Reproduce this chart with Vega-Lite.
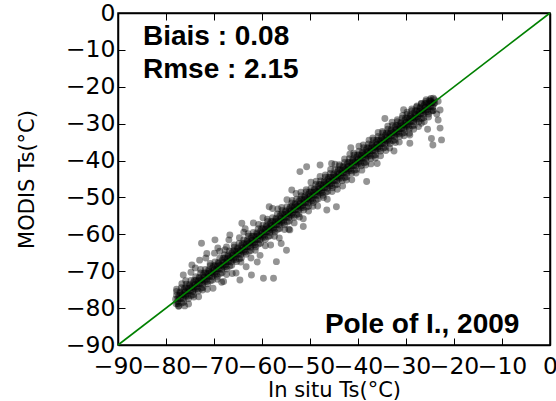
{
"$schema": "https://vega.github.io/schema/vega-lite/v6.json",
"width": 432, "height": 332,
"autosize": {"type": "none"},
"padding": {"left": 118, "top": 13, "right": 6, "bottom": 56},
"background": "white",
"config": {
 "view": {"stroke": "black", "strokeWidth": 1.5},
 "axis": {"labelFont": "DejaVu Sans", "labelFontSize": 23.5, "labelColor": "black", "titleFont": "DejaVu Sans", "titleFontSize": 21, "titleFontWeight": "normal", "titleColor": "black", "domainColor": "black", "domainWidth": 1.5, "tickColor": "black", "tickWidth": 1, "tickSize": -7, "grid": false, "labelOverlap": false, "labelFlush": false}
},
"datasets": {
"obs": [
{"x":-78,"y":-77.6},{"x":-77.9,"y":-78.8},{"x":-77.8,"y":-76.5},{"x":-77.6,"y":-78.2},
{"x":-76,"y":-75.6},{"x":-75.9,"y":-76.8},{"x":-75.8,"y":-74.5},{"x":-75.6,"y":-76.2},
{"x":-74,"y":-73.6},{"x":-73.9,"y":-74.8},{"x":-73.8,"y":-72.5},{"x":-73.6,"y":-74.2},
{"x":-72,"y":-71.6},{"x":-71.9,"y":-72.8},{"x":-71.8,"y":-70.5},{"x":-71.6,"y":-72.2},
{"x":-70,"y":-69.6},{"x":-69.9,"y":-70.8},{"x":-69.8,"y":-68.5},{"x":-69.6,"y":-70.2},
{"x":-68,"y":-67.6},{"x":-67.9,"y":-68.8},{"x":-67.8,"y":-66.5},{"x":-67.6,"y":-68.2},
{"x":-66,"y":-65.6},{"x":-65.9,"y":-66.8},{"x":-65.8,"y":-64.5},{"x":-65.6,"y":-66.2},
{"x":-64,"y":-63.6},{"x":-63.9,"y":-64.8},{"x":-63.8,"y":-62.5},{"x":-63.6,"y":-64.2},
{"x":-62,"y":-61.6},{"x":-61.9,"y":-62.8},{"x":-61.8,"y":-60.5},{"x":-61.6,"y":-62.2},
{"x":-60,"y":-59.6},{"x":-59.9,"y":-60.8},{"x":-59.8,"y":-58.5},{"x":-59.6,"y":-60.2},
{"x":-58,"y":-57.6},{"x":-57.9,"y":-58.8},{"x":-57.8,"y":-56.5},{"x":-57.6,"y":-58.2},
{"x":-56,"y":-55.6},{"x":-55.9,"y":-56.8},{"x":-55.8,"y":-54.5},{"x":-55.6,"y":-56.2},
{"x":-54,"y":-53.6},{"x":-53.9,"y":-54.8},{"x":-53.8,"y":-52.5},{"x":-53.6,"y":-54.2},
{"x":-52,"y":-51.6},{"x":-51.9,"y":-52.8},{"x":-51.8,"y":-50.5},{"x":-51.6,"y":-52.2},
{"x":-50,"y":-49.6},{"x":-49.9,"y":-50.8},{"x":-49.8,"y":-48.5},{"x":-49.6,"y":-50.2},
{"x":-48,"y":-47.6},{"x":-47.9,"y":-48.8},{"x":-47.8,"y":-46.5},{"x":-47.6,"y":-48.2},
{"x":-46,"y":-45.6},{"x":-45.9,"y":-46.8},{"x":-45.8,"y":-44.5},{"x":-45.6,"y":-46.2},
{"x":-44,"y":-43.6},{"x":-43.9,"y":-44.8},{"x":-43.8,"y":-42.5},{"x":-43.6,"y":-44.2},
{"x":-42,"y":-41.6},{"x":-41.9,"y":-42.8},{"x":-41.8,"y":-40.5},{"x":-41.6,"y":-42.2},
{"x":-40,"y":-39.6},{"x":-39.9,"y":-40.8},{"x":-39.8,"y":-38.5},{"x":-39.6,"y":-40.2},
{"x":-38,"y":-37.6},{"x":-37.9,"y":-38.8},{"x":-37.8,"y":-36.5},{"x":-37.6,"y":-38.2},
{"x":-36,"y":-35.6},{"x":-35.9,"y":-36.8},{"x":-35.8,"y":-34.5},{"x":-35.6,"y":-36.2},
{"x":-34,"y":-33.6},{"x":-33.9,"y":-34.8},{"x":-33.8,"y":-32.5},{"x":-33.6,"y":-34.2},
{"x":-32,"y":-31.6},{"x":-31.9,"y":-32.8},{"x":-31.8,"y":-30.5},{"x":-31.6,"y":-32.2},
{"x":-30,"y":-29.6},{"x":-29.9,"y":-30.8},{"x":-29.8,"y":-28.5},{"x":-29.6,"y":-30.2},
{"x":-28,"y":-27.6},{"x":-27.9,"y":-28.8},{"x":-27.8,"y":-26.5},{"x":-27.6,"y":-28.2},
{"x":-26,"y":-25.6},{"x":-25.9,"y":-26.8},{"x":-25.8,"y":-24.5},{"x":-25.6,"y":-26.2},
{"x":-77.5,"y":-78.8},{"x":-77.3,"y":-76.6},{"x":-77.2,"y":-77.4},{"x":-77.1,"y":-75.6},
{"x":-75.5,"y":-76.8},{"x":-75.3,"y":-74.6},{"x":-75.2,"y":-75.4},{"x":-75.1,"y":-73.6},
{"x":-73.5,"y":-74.8},{"x":-73.3,"y":-72.6},{"x":-73.2,"y":-73.4},{"x":-73.1,"y":-71.6},
{"x":-71.5,"y":-72.8},{"x":-71.3,"y":-70.6},{"x":-71.2,"y":-71.4},{"x":-71.1,"y":-69.6},
{"x":-69.5,"y":-70.8},{"x":-69.3,"y":-68.6},{"x":-69.2,"y":-69.4},{"x":-69.1,"y":-67.6},
{"x":-67.5,"y":-68.8},{"x":-67.3,"y":-66.6},{"x":-67.2,"y":-67.4},{"x":-67.1,"y":-65.6},
{"x":-65.5,"y":-66.8},{"x":-65.3,"y":-64.6},{"x":-65.2,"y":-65.4},{"x":-65.1,"y":-63.6},
{"x":-63.5,"y":-64.8},{"x":-63.3,"y":-62.6},{"x":-63.2,"y":-63.4},{"x":-63.1,"y":-61.6},
{"x":-61.5,"y":-62.8},{"x":-61.3,"y":-60.6},{"x":-61.2,"y":-61.4},{"x":-61.1,"y":-59.6},
{"x":-59.5,"y":-60.8},{"x":-59.3,"y":-58.6},{"x":-59.2,"y":-59.4},{"x":-59.1,"y":-57.6},
{"x":-57.5,"y":-58.8},{"x":-57.3,"y":-56.6},{"x":-57.2,"y":-57.4},{"x":-57.1,"y":-55.6},
{"x":-55.5,"y":-56.8},{"x":-55.3,"y":-54.6},{"x":-55.2,"y":-55.4},{"x":-55.1,"y":-53.6},
{"x":-53.5,"y":-54.8},{"x":-53.3,"y":-52.6},{"x":-53.2,"y":-53.4},{"x":-53.1,"y":-51.6},
{"x":-51.5,"y":-52.8},{"x":-51.3,"y":-50.6},{"x":-51.2,"y":-51.4},{"x":-51.1,"y":-49.6},
{"x":-49.5,"y":-50.8},{"x":-49.3,"y":-48.6},{"x":-49.2,"y":-49.4},{"x":-49.1,"y":-47.6},
{"x":-47.5,"y":-48.8},{"x":-47.3,"y":-46.6},{"x":-47.2,"y":-47.4},{"x":-47.1,"y":-45.6},
{"x":-45.5,"y":-46.8},{"x":-45.3,"y":-44.6},{"x":-45.2,"y":-45.4},{"x":-45.1,"y":-43.6},
{"x":-43.5,"y":-44.8},{"x":-43.3,"y":-42.6},{"x":-43.2,"y":-43.4},{"x":-43.1,"y":-41.6},
{"x":-41.5,"y":-42.8},{"x":-41.3,"y":-40.6},{"x":-41.2,"y":-41.4},{"x":-41.1,"y":-39.6},
{"x":-39.5,"y":-40.8},{"x":-39.3,"y":-38.6},{"x":-39.2,"y":-39.4},{"x":-39.1,"y":-37.6},
{"x":-37.5,"y":-38.8},{"x":-37.3,"y":-36.6},{"x":-37.2,"y":-37.4},{"x":-37.1,"y":-35.6},
{"x":-35.5,"y":-36.8},{"x":-35.3,"y":-34.6},{"x":-35.2,"y":-35.4},{"x":-35.1,"y":-33.6},
{"x":-33.5,"y":-34.8},{"x":-33.3,"y":-32.6},{"x":-33.2,"y":-33.4},{"x":-33.1,"y":-31.6},
{"x":-31.5,"y":-32.8},{"x":-31.3,"y":-30.6},{"x":-31.2,"y":-31.4},{"x":-31.1,"y":-29.6},
{"x":-29.5,"y":-30.8},{"x":-29.3,"y":-28.6},{"x":-29.2,"y":-29.4},{"x":-29.1,"y":-27.6},
{"x":-27.5,"y":-28.8},{"x":-27.3,"y":-26.6},{"x":-27.2,"y":-27.4},{"x":-27.1,"y":-25.6},
{"x":-25.5,"y":-26.8},{"x":-25.3,"y":-24.6},{"x":-25.2,"y":-25.4},{"x":-25.1,"y":-23.6},
{"x":-77,"y":-75.9},{"x":-76.9,"y":-77.4},{"x":-76.7,"y":-78.6},{"x":-76.6,"y":-76.3},
{"x":-75,"y":-73.9},{"x":-74.9,"y":-75.4},{"x":-74.7,"y":-76.6},{"x":-74.6,"y":-74.3},
{"x":-73,"y":-71.9},{"x":-72.9,"y":-73.4},{"x":-72.7,"y":-74.6},{"x":-72.6,"y":-72.3},
{"x":-71,"y":-69.9},{"x":-70.9,"y":-71.4},{"x":-70.7,"y":-72.6},{"x":-70.6,"y":-70.3},
{"x":-69,"y":-67.9},{"x":-68.9,"y":-69.4},{"x":-68.7,"y":-70.6},{"x":-68.6,"y":-68.3},
{"x":-67,"y":-65.9},{"x":-66.9,"y":-67.4},{"x":-66.7,"y":-68.6},{"x":-66.6,"y":-66.3},
{"x":-65,"y":-63.9},{"x":-64.9,"y":-65.4},{"x":-64.7,"y":-66.6},{"x":-64.6,"y":-64.3},
{"x":-63,"y":-61.9},{"x":-62.9,"y":-63.4},{"x":-62.7,"y":-64.6},{"x":-62.6,"y":-62.3},
{"x":-61,"y":-59.9},{"x":-60.9,"y":-61.4},{"x":-60.7,"y":-62.6},{"x":-60.6,"y":-60.3},
{"x":-59,"y":-57.9},{"x":-58.9,"y":-59.4},{"x":-58.7,"y":-60.6},{"x":-58.6,"y":-58.3},
{"x":-57,"y":-55.9},{"x":-56.9,"y":-57.4},{"x":-56.7,"y":-58.6},{"x":-56.6,"y":-56.3},
{"x":-55,"y":-53.9},{"x":-54.9,"y":-55.4},{"x":-54.7,"y":-56.6},{"x":-54.6,"y":-54.3},
{"x":-53,"y":-51.9},{"x":-52.9,"y":-53.4},{"x":-52.7,"y":-54.6},{"x":-52.6,"y":-52.3},
{"x":-51,"y":-49.9},{"x":-50.9,"y":-51.4},{"x":-50.7,"y":-52.6},{"x":-50.6,"y":-50.3},
{"x":-49,"y":-47.9},{"x":-48.9,"y":-49.4},{"x":-48.7,"y":-50.6},{"x":-48.6,"y":-48.3},
{"x":-47,"y":-45.9},{"x":-46.9,"y":-47.4},{"x":-46.7,"y":-48.6},{"x":-46.6,"y":-46.3},
{"x":-45,"y":-43.9},{"x":-44.9,"y":-45.4},{"x":-44.7,"y":-46.6},{"x":-44.6,"y":-44.3},
{"x":-43,"y":-41.9},{"x":-42.9,"y":-43.4},{"x":-42.7,"y":-44.6},{"x":-42.6,"y":-42.3},
{"x":-41,"y":-39.9},{"x":-40.9,"y":-41.4},{"x":-40.7,"y":-42.6},{"x":-40.6,"y":-40.3},
{"x":-39,"y":-37.9},{"x":-38.9,"y":-39.4},{"x":-38.7,"y":-40.6},{"x":-38.6,"y":-38.3},
{"x":-37,"y":-35.9},{"x":-36.9,"y":-37.4},{"x":-36.7,"y":-38.6},{"x":-36.6,"y":-36.3},
{"x":-35,"y":-33.9},{"x":-34.9,"y":-35.4},{"x":-34.7,"y":-36.6},{"x":-34.6,"y":-34.3},
{"x":-33,"y":-31.9},{"x":-32.9,"y":-33.4},{"x":-32.7,"y":-34.6},{"x":-32.6,"y":-32.3},
{"x":-31,"y":-29.9},{"x":-30.9,"y":-31.4},{"x":-30.7,"y":-32.6},{"x":-30.6,"y":-30.3},
{"x":-29,"y":-27.9},{"x":-28.9,"y":-29.4},{"x":-28.7,"y":-30.6},{"x":-28.6,"y":-28.3},
{"x":-27,"y":-25.9},{"x":-26.9,"y":-27.4},{"x":-26.7,"y":-28.6},{"x":-26.6,"y":-26.3},
{"x":-25,"y":-23.9},{"x":-24.9,"y":-25.4},{"x":-24.7,"y":-26.6},{"x":-24.6,"y":-24.3},
{"x":-76.4,"y":-77.5},{"x":-76.3,"y":-75.1},{"x":-76.2,"y":-76.6},{"x":-76.1,"y":-74.5},
{"x":-74.4,"y":-75.5},{"x":-74.3,"y":-73.1},{"x":-74.2,"y":-74.6},{"x":-74.1,"y":-72.5},
{"x":-72.4,"y":-73.5},{"x":-72.3,"y":-71.1},{"x":-72.2,"y":-72.6},{"x":-72.1,"y":-70.5},
{"x":-70.4,"y":-71.5},{"x":-70.3,"y":-69.1},{"x":-70.2,"y":-70.6},{"x":-70.1,"y":-68.5},
{"x":-68.4,"y":-69.5},{"x":-68.3,"y":-67.1},{"x":-68.2,"y":-68.6},{"x":-68.1,"y":-66.5},
{"x":-66.4,"y":-67.5},{"x":-66.3,"y":-65.1},{"x":-66.2,"y":-66.6},{"x":-66.1,"y":-64.5},
{"x":-64.4,"y":-65.5},{"x":-64.3,"y":-63.1},{"x":-64.2,"y":-64.6},{"x":-64.1,"y":-62.5},
{"x":-62.4,"y":-63.5},{"x":-62.3,"y":-61.1},{"x":-62.2,"y":-62.6},{"x":-62.1,"y":-60.5},
{"x":-60.4,"y":-61.5},{"x":-60.3,"y":-59.1},{"x":-60.2,"y":-60.6},{"x":-60.1,"y":-58.5},
{"x":-58.4,"y":-59.5},{"x":-58.3,"y":-57.1},{"x":-58.2,"y":-58.6},{"x":-58.1,"y":-56.5},
{"x":-56.4,"y":-57.5},{"x":-56.3,"y":-55.1},{"x":-56.2,"y":-56.6},{"x":-56.1,"y":-54.5},
{"x":-54.4,"y":-55.5},{"x":-54.3,"y":-53.1},{"x":-54.2,"y":-54.6},{"x":-54.1,"y":-52.5},
{"x":-52.4,"y":-53.5},{"x":-52.3,"y":-51.1},{"x":-52.2,"y":-52.6},{"x":-52.1,"y":-50.5},
{"x":-50.4,"y":-51.5},{"x":-50.3,"y":-49.1},{"x":-50.2,"y":-50.6},{"x":-50.1,"y":-48.5},
{"x":-48.4,"y":-49.5},{"x":-48.3,"y":-47.1},{"x":-48.2,"y":-48.6},{"x":-48.1,"y":-46.5},
{"x":-46.4,"y":-47.5},{"x":-46.3,"y":-45.1},{"x":-46.2,"y":-46.6},{"x":-46.1,"y":-44.5},
{"x":-44.4,"y":-45.5},{"x":-44.3,"y":-43.1},{"x":-44.2,"y":-44.6},{"x":-44.1,"y":-42.5},
{"x":-42.4,"y":-43.5},{"x":-42.3,"y":-41.1},{"x":-42.2,"y":-42.6},{"x":-42.1,"y":-40.5},
{"x":-40.4,"y":-41.5},{"x":-40.3,"y":-39.1},{"x":-40.2,"y":-40.6},{"x":-40.1,"y":-38.5},
{"x":-38.4,"y":-39.5},{"x":-38.3,"y":-37.1},{"x":-38.2,"y":-38.6},{"x":-38.1,"y":-36.5},
{"x":-36.4,"y":-37.5},{"x":-36.3,"y":-35.1},{"x":-36.2,"y":-36.6},{"x":-36.1,"y":-34.5},
{"x":-34.4,"y":-35.5},{"x":-34.3,"y":-33.1},{"x":-34.2,"y":-34.6},{"x":-34.1,"y":-32.5},
{"x":-32.4,"y":-33.5},{"x":-32.3,"y":-31.1},{"x":-32.2,"y":-32.6},{"x":-32.1,"y":-30.5},
{"x":-30.4,"y":-31.5},{"x":-30.3,"y":-29.1},{"x":-30.2,"y":-30.6},{"x":-30.1,"y":-28.5},
{"x":-28.4,"y":-29.5},{"x":-28.3,"y":-27.1},{"x":-28.2,"y":-28.6},{"x":-28.1,"y":-26.5},
{"x":-26.4,"y":-27.5},{"x":-26.3,"y":-25.1},{"x":-26.2,"y":-26.6},{"x":-26.1,"y":-24.5},
{"x":-24.4,"y":-25.5},{"x":-24.3,"y":-23.1},{"x":-24.2,"y":-24.6},{"x":-24.1,"y":-23.5},
{"x":-77.8,"y":-75.5},{"x":-77.3,"y":-79.4},{"x":-77.5,"y":-77.3},
{"x":-76.8,"y":-74.5},{"x":-76.3,"y":-78.4},{"x":-76.5,"y":-76.3},
{"x":-75.8,"y":-73.5},{"x":-75.3,"y":-77.4},{"x":-75.5,"y":-75.3},
{"x":-74.8,"y":-72.5},{"x":-74.3,"y":-76.4},{"x":-74.5,"y":-74.3},
{"x":-73.8,"y":-71.5},{"x":-73.3,"y":-75.4},{"x":-73.5,"y":-73.3},
{"x":-72.8,"y":-70.5},{"x":-72.3,"y":-74.4},{"x":-72.5,"y":-72.3},
{"x":-71.8,"y":-69.5},{"x":-71.3,"y":-73.4},{"x":-71.5,"y":-71.3},
{"x":-70.8,"y":-68.5},{"x":-70.3,"y":-72.4},{"x":-70.5,"y":-70.3},
{"x":-69.8,"y":-67.5},{"x":-69.3,"y":-71.4},{"x":-69.5,"y":-69.3},
{"x":-68.8,"y":-66.5},{"x":-68.3,"y":-70.4},{"x":-68.5,"y":-68.3},
{"x":-67.8,"y":-65.5},{"x":-67.3,"y":-69.4},{"x":-67.5,"y":-67.3},
{"x":-66.8,"y":-64.5},{"x":-66.3,"y":-68.4},{"x":-66.5,"y":-66.3},
{"x":-65.8,"y":-63.5},{"x":-65.3,"y":-67.4},{"x":-65.5,"y":-65.3},
{"x":-64.8,"y":-62.5},{"x":-64.3,"y":-66.4},{"x":-64.5,"y":-64.3},
{"x":-63.8,"y":-61.5},{"x":-63.3,"y":-65.4},{"x":-63.5,"y":-63.3},
{"x":-62.8,"y":-60.5},{"x":-62.3,"y":-64.4},{"x":-62.5,"y":-62.3},
{"x":-61.8,"y":-59.5},{"x":-61.3,"y":-63.4},{"x":-61.5,"y":-61.3},
{"x":-60.8,"y":-58.5},{"x":-60.3,"y":-62.4},{"x":-60.5,"y":-60.3},
{"x":-59.8,"y":-57.5},{"x":-59.3,"y":-61.4},{"x":-59.5,"y":-59.3},
{"x":-58.8,"y":-56.5},{"x":-58.3,"y":-60.4},{"x":-58.5,"y":-58.3},
{"x":-57.8,"y":-55.5},{"x":-57.3,"y":-59.4},{"x":-57.5,"y":-57.3},
{"x":-56.8,"y":-54.5},{"x":-56.3,"y":-58.4},{"x":-56.5,"y":-56.3},
{"x":-55.8,"y":-53.5},{"x":-55.3,"y":-57.4},{"x":-55.5,"y":-55.3},
{"x":-54.8,"y":-52.5},{"x":-54.3,"y":-56.4},{"x":-54.5,"y":-54.3},
{"x":-53.8,"y":-51.5},{"x":-53.3,"y":-55.4},{"x":-53.5,"y":-53.3},
{"x":-52.8,"y":-50.5},{"x":-52.3,"y":-54.4},{"x":-52.5,"y":-52.3},
{"x":-51.8,"y":-49.5},{"x":-51.3,"y":-53.4},{"x":-51.5,"y":-51.3},
{"x":-50.8,"y":-48.5},{"x":-50.3,"y":-52.4},{"x":-50.5,"y":-50.3},
{"x":-49.8,"y":-47.5},{"x":-49.3,"y":-51.4},{"x":-49.5,"y":-49.3},
{"x":-48.8,"y":-46.5},{"x":-48.3,"y":-50.4},{"x":-48.5,"y":-48.3},
{"x":-47.8,"y":-45.5},{"x":-47.3,"y":-49.4},{"x":-47.5,"y":-47.3},
{"x":-46.8,"y":-44.5},{"x":-46.3,"y":-48.4},{"x":-46.5,"y":-46.3},
{"x":-45.8,"y":-43.5},{"x":-45.3,"y":-47.4},{"x":-45.5,"y":-45.3},
{"x":-44.8,"y":-42.5},{"x":-44.3,"y":-46.4},{"x":-44.5,"y":-44.3},
{"x":-43.8,"y":-41.5},{"x":-43.3,"y":-45.4},{"x":-43.5,"y":-43.3},
{"x":-42.8,"y":-40.5},{"x":-42.3,"y":-44.4},{"x":-42.5,"y":-42.3},
{"x":-41.8,"y":-39.5},{"x":-41.3,"y":-43.4},{"x":-41.5,"y":-41.3},
{"x":-40.8,"y":-38.5},{"x":-40.3,"y":-42.4},{"x":-40.5,"y":-40.3},
{"x":-39.8,"y":-37.5},{"x":-39.3,"y":-41.4},{"x":-39.5,"y":-39.3},
{"x":-38.8,"y":-36.5},{"x":-38.3,"y":-40.4},{"x":-38.5,"y":-38.3},
{"x":-37.8,"y":-35.5},{"x":-37.3,"y":-39.4},{"x":-37.5,"y":-37.3},
{"x":-36.8,"y":-34.5},{"x":-36.3,"y":-38.4},{"x":-36.5,"y":-36.3},
{"x":-35.8,"y":-33.5},{"x":-35.3,"y":-37.4},{"x":-35.5,"y":-35.3},
{"x":-34.8,"y":-32.5},{"x":-34.3,"y":-36.4},{"x":-34.5,"y":-34.3},
{"x":-33.8,"y":-31.5},{"x":-33.3,"y":-35.4},{"x":-33.5,"y":-33.3},
{"x":-32.8,"y":-30.5},{"x":-32.3,"y":-34.4},{"x":-32.5,"y":-32.3},
{"x":-31.8,"y":-29.5},{"x":-31.3,"y":-33.4},{"x":-31.5,"y":-31.3},
{"x":-30.8,"y":-28.5},{"x":-30.3,"y":-32.4},{"x":-30.5,"y":-30.3},
{"x":-29.8,"y":-27.5},{"x":-29.3,"y":-31.4},{"x":-29.5,"y":-29.3},
{"x":-28.8,"y":-26.5},{"x":-28.3,"y":-30.4},{"x":-28.5,"y":-28.3},
{"x":-27.8,"y":-25.5},{"x":-27.3,"y":-29.4},{"x":-27.5,"y":-27.3},
{"x":-26.8,"y":-24.5},{"x":-26.3,"y":-28.4},{"x":-26.5,"y":-26.3},
{"x":-25.8,"y":-23.5},{"x":-25.3,"y":-27.4},{"x":-25.5,"y":-25.3},
{"x":-24.8,"y":-23.2},{"x":-24.3,"y":-26.4},{"x":-24.5,"y":-24.3},
{"x":-77.8,"y":-74.9},{"x":-77.4,"y":-79.5},{"x":-76.7,"y":-73.4},{"x":-76.1,"y":-79.4},
{"x":-75.9,"y":-72.6},{"x":-75.3,"y":-78.9},{"x":-74.8,"y":-70.3},{"x":-74.2,"y":-77.0},
{"x":-73.9,"y":-69.1},{"x":-73.2,"y":-76.9},{"x":-72.8,"y":-69.5},{"x":-72.4,"y":-75.1},
{"x":-71.7,"y":-66.4},{"x":-71.4,"y":-74.9},{"x":-70.8,"y":-67.9},{"x":-70.2,"y":-74.6},
{"x":-69.9,"y":-65.1},{"x":-69.3,"y":-72.2},{"x":-68.8,"y":-64.6},{"x":-68.4,"y":-73.0},
{"x":-67.7,"y":-64.2},{"x":-67.4,"y":-70.9},{"x":-66.9,"y":-61.5},{"x":-66.2,"y":-70.6},
{"x":-65.8,"y":-62.9},{"x":-65.4,"y":-70.5},{"x":-64.7,"y":-60.9},{"x":-64.4,"y":-67.5},
{"x":-63.8,"y":-59.4},{"x":-63.3,"y":-68.8},{"x":-62.9,"y":-59.8},{"x":-62.3,"y":-66.4},
{"x":-61.8,"y":-56.9},{"x":-61.4,"y":-64.3},{"x":-60.7,"y":-57.3},{"x":-60.4,"y":-65.7},
{"x":-59.8,"y":-55.5},{"x":-59.3,"y":-63.1},{"x":-58.9,"y":-55.9},{"x":-58.2,"y":-62.9},
{"x":-57.8,"y":-53.0},{"x":-57.4,"y":-60.5},{"x":-56.7,"y":-53.1},{"x":-56.4,"y":-61.0},
{"x":-55.9,"y":-52.7},{"x":-55.3,"y":-58.7},{"x":-54.8,"y":-50.6},{"x":-54.4,"y":-58.6},
{"x":-53.7,"y":-50.8},{"x":-53.3,"y":-56.9},{"x":-52.9,"y":-48.9},{"x":-52.2,"y":-55.3},
{"x":-51.9,"y":-48.6},{"x":-51.4,"y":-55.8},{"x":-50.8,"y":-47.9},{"x":-50.3,"y":-53.7},
{"x":-49.8,"y":-45.9},{"x":-49.4,"y":-52.4},{"x":-48.7,"y":-45.6},{"x":-48.4,"y":-52.3},
{"x":-47.9,"y":-44.3},{"x":-47.2,"y":-50.0},{"x":-46.8,"y":-43.9},{"x":-46.4,"y":-50.5},
{"x":-45.7,"y":-42.4},{"x":-45.4,"y":-48.4},{"x":-44.8,"y":-41.0},{"x":-44.3,"y":-47.8},
{"x":-43.9,"y":-41.1},{"x":-43.2,"y":-46.9},{"x":-42.8,"y":-39.6},{"x":-42.4,"y":-45.3},
{"x":-41.7,"y":-38.3},{"x":-41.3,"y":-45.2},{"x":-40.9,"y":-38.0},{"x":-40.4,"y":-43.4},
{"x":-39.8,"y":-36.1},{"x":-39.2,"y":-42.6},{"x":-38.9,"y":-35.8},{"x":-38.4,"y":-41.2},
{"x":-37.7,"y":-34.5},{"x":-37.3,"y":-40.9},{"x":-36.9,"y":-33.9},{"x":-36.4,"y":-39.3},
{"x":-35.8,"y":-32.4},{"x":-35.3,"y":-38.7},{"x":-34.9,"y":-32.1},{"x":-34.2,"y":-37.3},
{"x":-33.8,"y":-30.7},{"x":-33.4,"y":-36.6},{"x":-32.9,"y":-29.6},{"x":-32.2,"y":-35.1},
{"x":-31.8,"y":-28.9},{"x":-31.4,"y":-35.0},{"x":-30.7,"y":-27.8},{"x":-30.4,"y":-33.3},
{"x":-29.8,"y":-26.9},{"x":-29.3,"y":-32.6},{"x":-28.8,"y":-26.0},{"x":-28.4,"y":-31.5},
{"x":-27.7,"y":-25.2},{"x":-27.4,"y":-30.8},{"x":-26.8,"y":-24.6},{"x":-26.2,"y":-29.4},
{"x":-25.9,"y":-24.0},{"x":-25.3,"y":-28.2},{"x":-24.8,"y":-23.9},{"x":-24.4,"y":-26.5},
{"x":-72.6,"y":-62.4},{"x":-69.8,"y":-61.5},{"x":-71.5,"y":-65.2},{"x":-69.2,"y":-63.7},
{"x":-67.4,"y":-63.4},{"x":-74.6,"y":-68.3},{"x":-76.4,"y":-71.0},{"x":-64.6,"y":-72.4},
{"x":-62.2,"y":-71.0},{"x":-59.7,"y":-71.9},{"x":-57.6,"y":-71.9},{"x":-57.0,"y":-67.4},
{"x":-64.2,"y":-57.0},{"x":-66.7,"y":-60.2},{"x":-54.9,"y":-64.3},{"x":-52.1,"y":-43.0},
{"x":-53.8,"y":-48.0},{"x":-50.7,"y":-41.7},{"x":-47.9,"y":-41.2},{"x":-45.5,"y":-40.8},
{"x":-38.2,"y":-45.7},{"x":-44.5,"y":-52.5},{"x":-46.5,"y":-53.4},{"x":-51.4,"y":-57.9},
{"x":-54.2,"y":-58.8},{"x":-34.4,"y":-28.6},{"x":-24.7,"y":-34.0},{"x":-22.6,"y":-34.4},
{"x":-24.4,"y":-35.8},{"x":-22.9,"y":-31.2},{"x":-23.3,"y":-29.0},{"x":-22.9,"y":-26.3},
{"x":-24.0,"y":-24.4},{"x":-29.2,"y":-35.3},{"x":-29.2,"y":-33.1},{"x":-26.8,"y":-29.9},
{"x":-23.3,"y":-23.9},{"x":-25.5,"y":-31.5},{"x":-23.6,"y":-27.4},{"x":-61.0,"y":-67.5},
{"x":-63.5,"y":-58.5},{"x":-58.5,"y":-52.5},{"x":-56.0,"y":-62.5},{"x":-68.0,"y":-72.8},
{"x":-73.0,"y":-67.0},{"x":-41.5,"y":-36.5},{"x":-36.0,"y":-40.8},{"x":-32.5,"y":-37.4},
{"x":-30.5,"y":-26.2}
],
"oneone": [{"x":-90,"y":-90},{"x":0,"y":0}],
"notes": [
{"label":"Biais : 0.08","x":-84.8,"y":-8.7},
{"label":"Rmse : 2.15","x":-84.8,"y":-17.7},
{"label":"Pole of I., 2009","x":-46.9,"y":-86.8}
]
},
"layer": [
 {
  "data": {"name": "obs"},
  "mark": {"type": "circle", "color": "black", "opacity": 0.42, "size": 48},
  "encoding": {
   "x": {"field": "x", "type": "quantitative", "scale": {"domain": [-90, 0], "nice": false, "zero": false},
         "axis": {"orient": "bottom", "values": [-90,-80,-70,-60,-50,-40,-30,-20,-10,0], "title": "In situ Ts(°C)", "labelPadding": 16, "titlePadding": 2}},
   "y": {"field": "y", "type": "quantitative", "scale": {"domain": [-90, 0], "nice": false, "zero": false},
         "axis": {"orient": "left", "values": [-90,-80,-70,-60,-50,-40,-30,-20,-10,0], "title": "MODIS Ts(°C)", "labelPadding": 10, "titlePadding": 28}}
  }
 },
 {
  "data": {"name": "oneone"},
  "mark": {"type": "line", "color": "#008000", "strokeWidth": 1.6},
  "encoding": {
   "x": {"field": "x", "type": "quantitative", "axis": {"orient": "top", "labels": false, "title": null, "values": [-90,-80,-70,-60,-50,-40,-30,-20,-10,0]}},
   "y": {"field": "y", "type": "quantitative", "axis": {"orient": "right", "labels": false, "title": null, "values": [-90,-80,-70,-60,-50,-40,-30,-20,-10,0]}}
  }
 },
 {
  "data": {"name": "notes"},
  "mark": {"type": "text", "align": "left", "baseline": "alphabetic", "font": "Liberation Sans", "fontWeight": "bold", "fontSize": 28, "color": "black"},
  "encoding": {
   "x": {"field": "x", "type": "quantitative", "axis": null},
   "y": {"field": "y", "type": "quantitative", "axis": null},
   "text": {"field": "label"}
  }
 }
],
"resolve": {"axis": {"x": "independent", "y": "independent"}}
}
